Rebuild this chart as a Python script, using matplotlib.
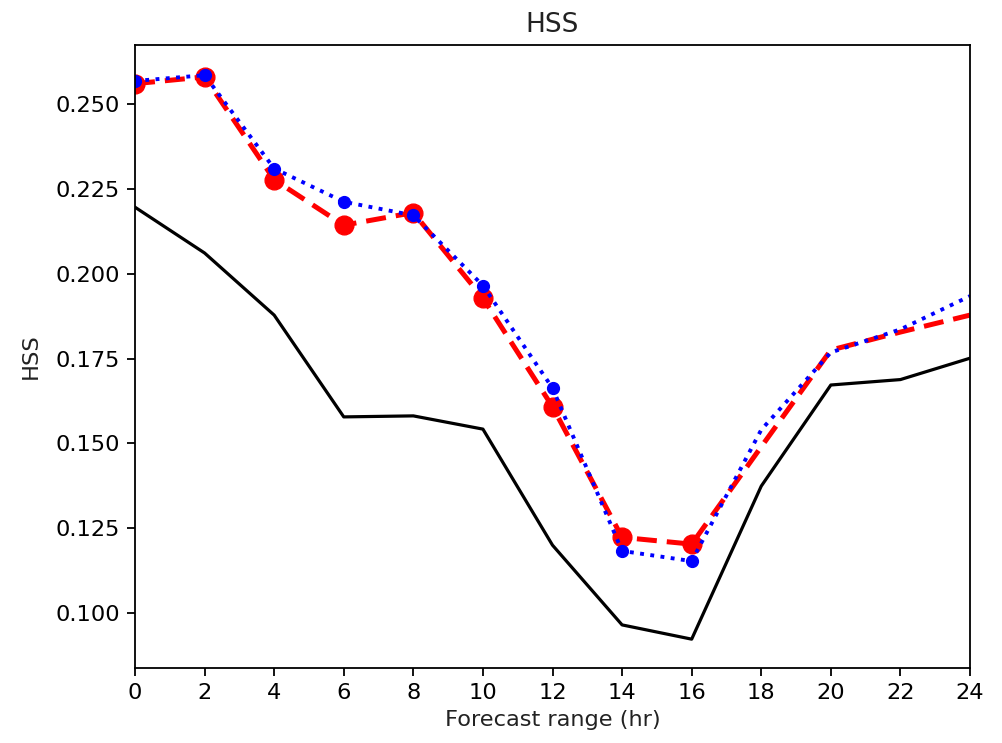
import matplotlib
matplotlib.use("Agg")
import matplotlib.pyplot as plt

hours = [0, 2, 4, 6, 8, 10, 12, 14, 16, 18, 20, 22, 24]
black = [0.2196, 0.2061, 0.1878, 0.1578, 0.1581, 0.1542, 0.1200, 0.0965, 0.0923, 0.1374, 0.1672, 0.1688, 0.1751]
red = [0.2560, 0.2580, 0.2277, 0.2143, 0.2180, 0.1928, 0.1608, 0.1223, 0.1203, 0.1490, 0.1775, 0.1828, 0.1878]
blue = [0.2568, 0.2585, 0.2310, 0.2212, 0.2172, 0.1965, 0.1663, 0.1183, 0.1153, 0.1540, 0.1768, 0.1836, 0.1934]
xticks = list(range(0, 25, 2))

fig = plt.figure(figsize=(10.02, 7.43), dpi=100)
ax = fig.add_axes([135/1002, 75/743, 835/1002, 623/743])

ax.plot(hours, black, color='black', lw=2.3)
ax.plot(hours, red, color='red', ls='--', lw=3.6, dashes=(4, 2), marker='o', ms=13.5, markevery=list(range(9)))
ax.plot(hours, blue, color='blue', ls=':', lw=2.8, marker='o', ms=8.5, markevery=list(range(9)))

ax.set_xlim(0, 24)
ax.set_ylim(0.0838, 0.2674)
ax.set_xticks(xticks)
ax.tick_params(labelsize=16.2, length=6, width=1.3, pad=5, colors='#222222', labelcolor='#222222')
ax.tick_params(colors='black')
for s in ax.spines.values():
    s.set_linewidth(1.3)
ax.set_xlabel('Forecast range (hr)', fontsize=16.2, labelpad=5, color='#222222')
ax.set_ylabel('HSS', fontsize=16.2, labelpad=10, color='#222222')
ax.set_title('HSS', fontsize=19, pad=9, color='#222222')

fig.savefig('out.png', dpi=100)
